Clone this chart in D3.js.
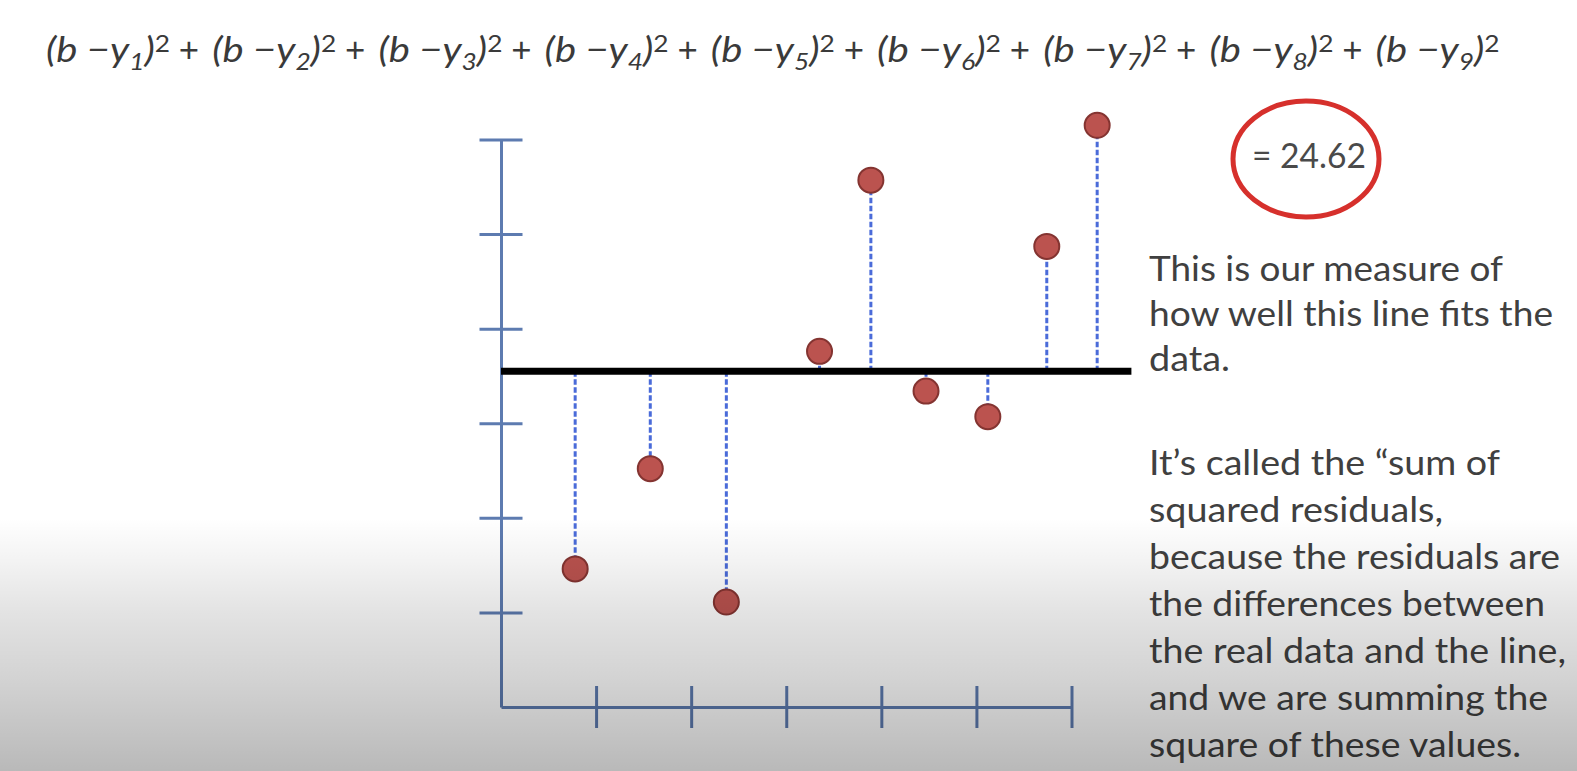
<!DOCTYPE html>
<html>
<head>
<meta charset="utf-8">
<script src="https://cdn.jsdelivr.net/npm/d3@7"></script>
<style>
  html, body { margin: 0; padding: 0; background: #ffffff; }
  svg { display: block; }
</style>
</head>
<body>
<svg id="chart" width="1577" height="771"></svg>
<script>
// ---------------- data ----------------
const pointX = [0.78, 1.57, 2.37, 3.35, 3.89, 4.47, 5.12, 5.74, 6.27];
const pointY = [1.46, 2.52, 1.11, 3.76, 5.57, 3.34, 3.07, 4.87, 6.15];
const lineB = 3.55;              // intercept of the horizontal line
const lineExtent = [0, 6.63];    // x-range covered by the line
const xTickValues = [1, 2, 3, 4, 5, 6];
const yTickValues = [1, 2, 3, 4, 5, 6];
const axisDomain = [0, 6];
const formulaSubscripts = ["1", "2", "3", "4", "5", "6", "7", "8", "9"];
const ssrLabel = "= 24.62";
const noteBlock1 = ["This is our measure of", "how well this line fits the", "data."];
const noteBlock1Widths = [354, 404, 81];
const noteBlock2 = [
  "It\u2019s called the \u201csum of",
  "squared residuals,",
  "because the residuals are",
  "the differences between",
  "the real data and the line,",
  "and we are summing the",
  "square of these values."
];
const noteBlock2Widths = [351, 294, 411, 396, 417, 399, 372];

// ---------------- layout ----------------
const svg = d3.select("#chart");
const W = 1577, H = 771;
const FONT = "Lato, 'Open Sans', 'DejaVu Sans', sans-serif";
const TEXT_COLOR = "#404040";
const AXIS_COLOR = "#5d7bb0";

svg.append("rect").attr("width", W).attr("height", H).attr("fill", "#ffffff");

const x = d3.scaleLinear().domain(axisDomain).range([501, 1071.5]);
const y = d3.scaleLinear().domain(axisDomain).range([707, 139.5]);

// ---------- axes ----------
const yAxis = svg.append("g")
  .attr("transform", `translate(${x(0)},0)`)
  .call(d3.axisLeft(y).tickValues(yTickValues).tickSizeOuter(0).tickFormat(""));
yAxis.selectAll(".tick line").attr("x1", -21.5).attr("x2", 21.5);

const xAxis = svg.append("g")
  .attr("transform", `translate(0,${y(0)})`)
  .call(d3.axisBottom(x).tickValues(xTickValues).tickSizeOuter(0).tickFormat(""));
xAxis.selectAll(".tick line").attr("y1", -21).attr("y2", 21);

[yAxis, xAxis].forEach(g => {
  g.selectAll("path.domain").attr("stroke", AXIS_COLOR).attr("stroke-width", 3);
  g.selectAll(".tick line").attr("stroke", AXIS_COLOR).attr("stroke-width", 3);
});

// ---------- residual lines ----------
const pts = pointX.map((v, i) => ({ x: v, y: pointY[i] }));
svg.append("g").selectAll("line")
  .data(pts).join("line")
  .attr("x1", d => x(d.x)).attr("x2", d => x(d.x))
  .attr("y1", y(lineB)).attr("y2", d => y(d.y))
  .attr("stroke", "#4a6bd9")
  .attr("stroke-width", 3)
  .attr("stroke-dasharray", "5.5,2.5");

// ---------- horizontal line ----------
svg.append("line")
  .attr("x1", x(lineExtent[0])).attr("x2", x(lineExtent[1]))
  .attr("y1", y(lineB)).attr("y2", y(lineB))
  .attr("stroke", "#000000").attr("stroke-width", 7);

// ---------- points ----------
svg.append("g").selectAll("circle")
  .data(pts).join("circle")
  .attr("cx", d => x(d.x)).attr("cy", d => y(d.y))
  .attr("r", 12.5)
  .attr("fill", "#bb534f")
  .attr("stroke", "#843431")
  .attr("stroke-width", 2);

// ---------- formula ----------
const formula = svg.append("g").attr("font-family", FONT).attr("fill", "#3a3a3a");
formulaSubscripts.forEach((s, i) => {
  const sx = 46 + i * 166.2;
  const t = formula.append("text")
    .attr("x", sx).attr("y", 62.3)
    .attr("font-size", 35)
    .attr("textLength", 124)
    .attr("lengthAdjust", "spacingAndGlyphs");
  t.append("tspan").attr("font-style", "italic").text("(b \u2212y");
  t.append("tspan").attr("font-style", "italic").attr("font-size", 23).attr("dy", 8).text(s);
  t.append("tspan").attr("font-style", "italic").attr("dy", -8).text(")");
  t.append("tspan").attr("font-size", 23).attr("dy", -10).text("2");
  if (i < formulaSubscripts.length - 1) {
    formula.append("text")
      .attr("x", sx + 143).attr("y", 62.3)
      .attr("text-anchor", "middle")
      .attr("font-size", 35)
      .text("+");
  }
});

// ---------- SSR annotation ----------
svg.append("ellipse")
  .attr("cx", 1306).attr("cy", 159)
  .attr("rx", 73).attr("ry", 58)
  .attr("fill", "none")
  .attr("stroke", "#d6302c")
  .attr("stroke-width", 5);
svg.append("text")
  .attr("x", 1252).attr("y", 168)
  .attr("font-family", FONT).attr("font-size", 34)
  .attr("fill", "#4a4a4a")
  .attr("textLength", 114).attr("lengthAdjust", "spacingAndGlyphs")
  .text(ssrLabel);

// ---------- notes ----------
const notes = svg.append("g").attr("font-family", FONT).attr("font-size", 34).attr("fill", TEXT_COLOR);
noteBlock1.forEach((line, i) => {
  notes.append("text")
    .attr("x", 1149).attr("y", 281 + i * 45)
    .attr("textLength", noteBlock1Widths[i]).attr("lengthAdjust", "spacingAndGlyphs")
    .text(line);
});
noteBlock2.forEach((line, i) => {
  notes.append("text")
    .attr("x", 1149).attr("y", 474.5 + i * 47)
    .attr("textLength", noteBlock2Widths[i]).attr("lengthAdjust", "spacingAndGlyphs")
    .text(line);
});

// ---------- bottom shading overlay ----------
const defs = svg.append("defs");
const grad = defs.append("linearGradient")
  .attr("id", "shade").attr("x1", 0).attr("x2", 0).attr("y1", 0).attr("y2", 1);
[
  [0.00, 0.000],
  [0.16, 0.045],
  [0.37, 0.110],
  [0.64, 0.175],
  [1.00, 0.275]
].forEach(([o, a]) => grad.append("stop").attr("offset", o).attr("stop-color", "#000").attr("stop-opacity", a));
svg.append("rect")
  .attr("x", 0).attr("y", 518).attr("width", W).attr("height", H - 518)
  .attr("fill", "url(#shade)")
  .attr("pointer-events", "none");
</script>
</body>
</html>
